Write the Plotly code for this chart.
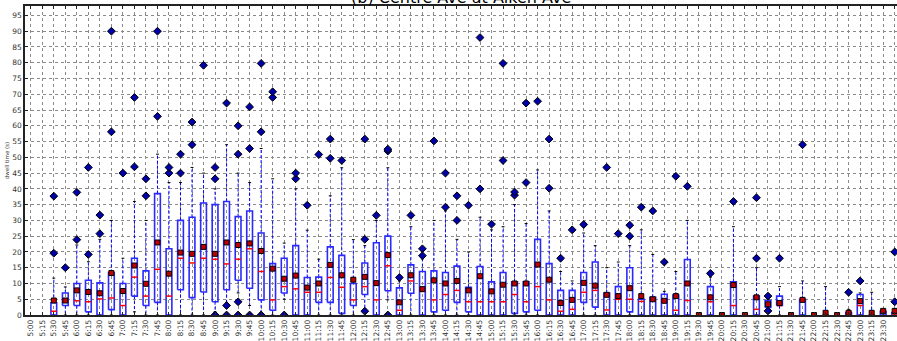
import plotly.graph_objects as go

labels = ["5:00","5:15","5:30","5:45","6:00","6:15","6:30","6:45","7:00","7:15","7:30","7:45",
          "8:00","8:15","8:30","8:45","9:00","9:15","9:30","9:45","10:00","10:15","10:30","10:45",
          "11:00","11:15","11:30","11:45","12:00","12:15","12:30","12:45","13:00","13:15","13:30","13:45",
          "14:00","14:15","14:30","14:45","15:00","15:15","15:30","15:45","16:00","16:15","16:30","16:45",
          "17:00","17:15","17:30","17:45","18:00","18:15","18:30","18:45","19:00","19:15","19:30","19:45",
          "20:00","20:15","20:30","20:45","21:00","21:15","21:30","21:45","22:00","22:15","22:30","22:45",
          "23:00","23:15","23:30","23:45"]

q1 = [None, None, 0, 3, 3, 1, 0, 1.7, 0, 6, 3, 4,
      0, 8, 5.5, 7.3, 4.2, 8, 11, 8.5, 4.8, 1.5, 7, 0,
      0, 4, 4, 0.5, 3, 6.5, 0, 7.7, 0, 6.9, 0, 1,
      1.5, 4, 1, 0, 0, 0, 0.5, 1, 1.5, 0, 0, 0,
      4, 2.5, 0, 0, 1, 0, 0, 0, 0, 0, 0, 0,
      0, 0, 0, 0, 2.4, 3, 0, 0, 0, 0, 0, 0,
      0, 0, 0, 0]
median = [None, None, 1.2, 4.3, 4.5, 4.2, 5.1, 5.4, 3, 12, 6, 14.5,
          6, 18, 16.5, 18, 17.7, 16.2, 17.7, 21, 13.8, 4.8, 9, 8.3,
          7.2, 7.2, 11.9, 8.8, 4.8, 9, 4.8, 15.6, 1.5, 10.8, 7.5, 4.8,
          6.5, 7.8, 4.2, 4.2, 4.2, 4.2, 6.5, 4.2, 9, 4.8, 1.2, 1.8,
          7.2, 7.8, 1.6, 5, 5, 4.3, 4.5, 4.5, 1.5, 4.6, 0, 4.2,
          0, 3, 0, 1.8, 3.3, 3, 0, 4.8, 0, 0, 0, 0,
          3, 0, 1.2, 0]
q3 = [None, None, 3.9, 7, 10, 11, 10.2, 13.5, 10, 18, 14, 38.5,
      21, 30, 31, 35.5, 35, 36, 31.2, 33, 26, 16.3, 18, 22,
      11.9, 12, 21.6, 18.9, 10, 16.5, 22.9, 25, 8.6, 15.9, 13.8, 14,
      13.5, 15.5, 8.8, 15.4, 10.5, 13.5, 10.5, 10.5, 24, 16.3, 7.8, 7.8,
      13.5, 16.8, 7, 9, 15, 5, 5.6, 6.6, 6.3, 17.6, 0, 9,
      0, 10.5, 0, 6, 4.6, 6, 0, 5, 0, 0, 0, 0.8,
      6.5, 0, 1.2, 0.8]
whisker_low = [None, None, 0, 0, 0, 0, 0, 0, 0, 1, 0, 0,
               0, 0, 0, 0, 1, 4, 7, 3, 0.8, 0, 5, 0,
               0, 0, 0, 0, 0, 2, 0, 4.8, 0, 0, 0, 0,
               0, 0, 0, 0, 0, 0, 0, 0, 0, 0, 0, 0,
               0, 0, 0, 0, 0, 0, 0, 0, 0, 0, 0, 0,
               0, 0, 0, 0, 2.2, 0, 0, 0, 0, 0, 0, 0,
               0, 0, 0, 0]
whisker_high = [None, None, 11.7, 8.9, 22.2, 16.9, 24, 30, 18, 36, 30, 51,
                42, 42, 46.8, 45, 40, 54, 45, 42, 52.8, 43.2, 22.8, 40,
                26.9, 17.7, 37.8, 46.7, 23.9, 22, 30, 46.7, 10.8, 28, 17.8, 30,
                33, 24, 20, 31, 27, 28, 35, 29, 46, 33, 13.8, 10.8,
                26, 22, 15, 16.8, 22, 27, 19.2, 7.5, 13.8, 30, 0, 12,
                0, 28, 0, 15, 4.8, 9, 0, 10.8, 0, 9, 0, 1.8,
                7, 7.2, 1.2, 2]
mean = [None, None, 4.6, 4.6, 7.8, 7.3, 6.9, 13.3, 7.6, 15.7, 9.9, 23,
        13.1, 19.8, 19.4, 21.6, 19.4, 23, 22.2, 22.7, 20.3, 14.7, 11.5, 12.5,
        8.7, 10, 15.9, 12.6, 11.2, 12.1, 10.1, 19, 4, 12.6, 8.2, 11,
        10, 10.8, 7.8, 12.3, 7.5, 9.6, 10, 10, 16, 11.2, 3.8, 4.8,
        10.2, 9.3, 6.4, 6, 8.5, 6, 5, 4.5, 6, 10, 0, 5.6,
        0, 9.5, 0, 5.6, 3.4, 3.8, 0, 4.8, 0, 0.7, 0, 0.7,
        4.4, 0.7, 1.3, 1.3]
outliers = [[], [], [19.6, 37.7], [15], [23.9, 38.9], [19.2, 46.8], [25.8, 31.7], [58.1, 90], [45],
            [47, 69], [37.8, 43.2], [63, 90],
            [45, 46.8], [45, 51], [54, 61.2], [79.2], [43.2, 46.8, 0], [67.2, 3, 0], [51, 60, 4.2, 0],
            [52.8, 66, 0], [58.1, 79.8, 0], [69, 70.8], [0], [43.2, 45],
            [34.8], [50.9], [49.7, 55.8], [49], [], [24, 55.8, 1.2], [31.6], [52, 52.6, 0], [11.9],
            [31.6], [18.8, 21], [55.2],
            [34.2, 45], [30, 37.8], [34.8], [40, 88], [28.8], [49, 79.8], [38, 39], [42, 67.2], [67.8],
            [40.2, 55.8], [18], [27],
            [28.7], [], [46.8], [25.8], [25, 28.5], [34.2], [33], [16.8], [44], [40.8], [], [13.2],
            [], [36], [], [18, 37.2], [1.3, 6], [18], [], [54], [], [], [], [7.2],
            [10.8], [], [], [4.2, 20]]

BOX_W = 0.5
CAP_W = 0.25

bx, by, mx, my, wx, wy, cx, cy, ox, oy, ax, ay = ([] for _ in range(12))
for i in range(len(labels)):
    if q1[i] is None:
        continue
    l, r = i - BOX_W / 2, i + BOX_W / 2
    bx += [l, r, r, l, l, None]
    by += [q1[i], q1[i], q3[i], q3[i], q1[i], None]
    mx += [l, r, None]
    my += [median[i], median[i], None]
    wx += [i, i, None, i, i, None]
    wy += [q3[i], whisker_high[i], None, q1[i], whisker_low[i], None]
    cl, cr = i - CAP_W / 2, i + CAP_W / 2
    cx += [cl, cr, None, cl, cr, None]
    cy += [whisker_high[i], whisker_high[i], None, whisker_low[i], whisker_low[i], None]
    for v in outliers[i]:
        ox.append(i)
        oy.append(v)
    ax.append(i)
    ay.append(mean[i])

fig = go.Figure()
fig.add_trace(go.Scatter(x=wx, y=wy, mode="lines",
                         line=dict(color="#0000ff", width=1, dash="3px,2px"), hoverinfo="skip"))
fig.add_trace(go.Scatter(x=cx, y=cy, mode="lines",
                         line=dict(color="#000000", width=1), hoverinfo="skip"))
fig.add_trace(go.Scatter(x=bx, y=by, mode="lines",
                         line=dict(color="#2a2aff", width=1.6), hoverinfo="skip"))
fig.add_trace(go.Scatter(x=mx, y=my, mode="lines",
                         line=dict(color="#ff0000", width=1.5), hoverinfo="skip"))
fig.add_trace(go.Scatter(x=ox, y=oy, mode="markers",
                         marker=dict(symbol="diamond", size=6, color="#0000a8",
                                     line=dict(color="#000000", width=1))))
fig.add_trace(go.Scatter(x=ax, y=ay, mode="markers",
                         marker=dict(symbol="square", size=5, color="#c00000",
                                     line=dict(color="#000000", width=1))))

fig.add_annotation(text="(b) Centre Ave at Aiken Ave", xref="paper", yref="paper",
                   x=0.5, y=1, xanchor="center", yanchor="bottom", yshift=-3, showarrow=False,
                   font=dict(family="DejaVu Sans", size=16, color="#000000"))

fig.update_layout(
    width=897, height=341,
    margin=dict(l=25, r=0, t=6, b=23),
    paper_bgcolor="white", plot_bgcolor="white",
    showlegend=False,
    font=dict(family="DejaVu Sans", size=8, color="#333333"),
)
fig.update_xaxes(
    range=[-0.5, 75.2], tickmode="array", tickvals=list(range(len(labels))), ticktext=labels,
    tickangle=-90, tickfont=dict(size=7.5), showgrid=True, gridcolor="#8a8a8a", griddash="dot",
    gridwidth=1, showline=True, linecolor="#222222", linewidth=1.5, mirror="ticks",
    ticks="inside", ticklen=3, tickcolor="#222222", zeroline=False,
)
fig.update_yaxes(
    range=[0, 98], tickmode="array", tickvals=list(range(0, 100, 5)),
    tickfont=dict(size=7.5), showgrid=True, gridcolor="#8a8a8a", griddash="dot",
    gridwidth=1, showline=True, linecolor="#222222", linewidth=1.5,
    ticks="inside", ticklen=3, tickcolor="#222222", zeroline=False,
    title=dict(text="dwell time (s)", font=dict(size=5.5), standoff=2),
)

fig.write_html("out.html")
